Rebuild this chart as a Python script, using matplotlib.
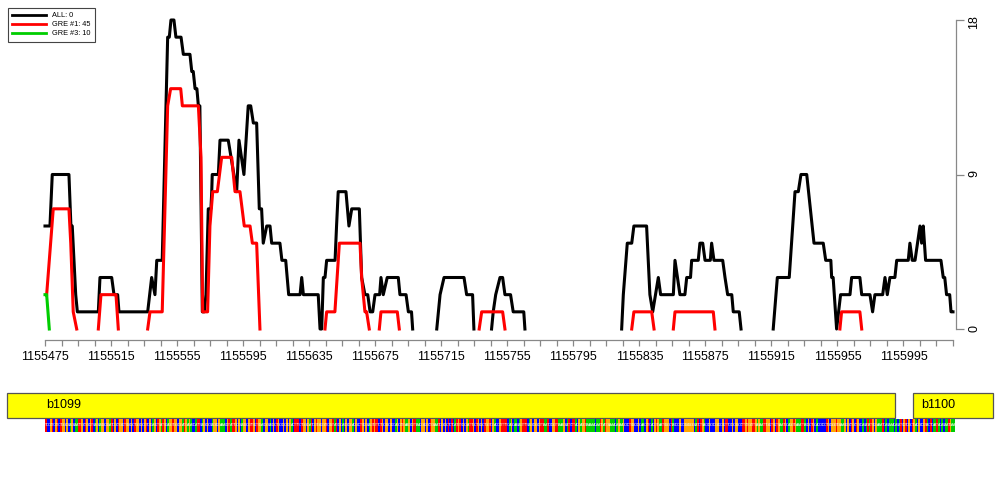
import numpy as np
import matplotlib.pyplot as plt
from matplotlib.ticker import FixedLocator

plt.rcParams['font.family'] = ['Liberation Sans', 'DejaVu Sans']

START = 1155475
END = 1156025
nan = np.nan

# coverage tracks (offset from START, value); nan breaks the line
ALL_OFF = [0, 3, 4.4, 14.5, 15.7, 16.5, 18.6, 19.6, 32.3, 33.3, 40.4, 41.8, 44, 44.8, 62.2, 64.6,
           66.6, 67.7, 71, 74.3, 75.3, 76.3, 78.1, 79.3, 82.4, 83.8, 87.8, 88.9, 89.8, 90.9, 92,
           92.9, 93.8, 95.3, 96.5, 97.5, 98.9, 100.5, 101, 101.3, 105, 106, 111, 116.1, 117.5,
           120.5, 123.1, 124.6, 126.2, 128.2, 129.8, 131.2, 132.2, 134.3, 136.3, 137.3, 142.3,
           143.5, 145.8, 147.6, 154.5, 155.5, 156.5, 165.5, 166.6, 167.6, 168.6, 169.6, 170.6,
           175.7, 176.6, 177.6, 182.3, 184.1, 185.8, 190.4, 191.8, 193.8, 195.5, 196.9, 198.5,
           199.9, 202.7, 203.5, 204.9, 207.3, 214, 215, 218.7, 220.1, 222, 222.7, nan,
           237.3, 239.3, 241.7, 253.8, 255.4, 259, 259.8, nan,
           270.5, 271.5, 273, 275.6, 277.2, 278.6, 282, 283.6, 290, 290.7, nan,
           349.3, 350.3, 352.7, 355.4, 356.7, 364.4, 366.4, 368.1, 371.5, 372.9, 380.6, 381.6,
           384.6, 387.6, 388.7, 391, 391.7, 395.7, 396.7, 398.4, 399.8, 403, 403.8, 405.2, 410.5,
           411.9, 413.5, 416, 416.9, 420.5, 421.6, nan,
           441.1, 443.6, 450.8, 452.9, 454.3, 456.3, 457.9, 461.4, 465.8, 471.4, 472.9, 476,
           476.5, 477.4, 479.5, 481.9, 487.6, 488.6, 493.6, 494.7, 499.7, 501.3, 502.7, 507.4,
           508.8, 510.2, 511.8, 514.8, 515.9, 522.9, 523.9, 525.3, 527, 530, 531, 532, 533.4,
           542.7, 544.1, 545, 546.1, 548, 548.8, 550]
ALL_VAL = [6, 6, 9, 9, 6, 6, 2, 1, 1, 3, 3, 2, 2, 1, 1, 3,
           2, 4, 4, 17, 17, 18, 18, 17, 17, 16, 16, 15, 15, 14, 14,
           13, 13, 1, 1, 2, 7, 7, 8, 9, 9, 11, 11, 8, 11,
           9, 13, 13, 12, 12, 7, 7, 5, 6, 6, 5, 5,
           4, 4, 2, 2, 3, 2, 2, 0, 0, 3, 3, 4,
           4, 6, 8, 8, 6, 7, 7, 3, 2, 2, 1, 1,
           2, 2, 3, 2, 3, 3, 2, 2, 1, 1, 0, nan,
           0, 2, 3, 3, 2, 2, 0, nan,
           0, 1, 2, 3, 3, 2, 2, 1, 1, 0, nan,
           0, 2, 5, 5, 6, 6, 2, 1, 3, 2, 2, 4,
           2, 2, 3, 3, 4, 4, 5, 5, 4, 4, 5, 4, 4,
           3, 2, 2, 1, 1, 0, nan,
           0, 3, 3, 6, 8, 8, 9, 9, 5, 5, 4, 4,
           3, 3, 0, 2, 2, 3, 3, 2, 2, 1, 2, 2,
           3, 2, 3, 3, 4, 4, 5, 4, 4, 6, 5, 6, 4,
           4, 3, 3, 2, 2, 1, 1]

GRE1_OFF = [1, 2.6, 5, 14.5, 15.6, 17.1, 19.2, nan,
            32.3, 33.9, 43, 44.4, nan,
            62.2, 63.6, 71, 74.3, 76.1, 82.2, 83.2, 92.9, 94.5, 95.5, 98.5, 99.9, 101.6, 104.4,
            107, 113.1, 115.1, 118.1, 120.7, 124.2, 125.6, 128.2, 130.2, nan,
            169.6, 170.6, 175.6, 178.3, 190.8, 191.8, 193.8, 194.8, 196.4, nan,
            202.5, 203.5, 213.4, 214.6, nan,
            263, 264.5, 277.2, 278.6, nan,
            355.4, 356.7, 367.5, 368.9, nan,
            380.6, 381.6, 404.8, 405.8, nan,
            481.5, 482.5, 493.6, 494.7]
GRE1_VAL = [2, 4, 7, 7, 5, 1, 0, nan,
            0, 2, 2, 0, nan,
            0, 1, 1, 13, 14, 14, 13, 13, 10, 1, 1, 6, 8, 8,
            10, 10, 8, 8, 6, 6, 5, 5, 0, nan,
            0, 1, 1, 5, 5, 3, 1, 1, 0, nan,
            0, 1, 1, 0, nan,
            0, 1, 1, 0, nan,
            0, 1, 1, 0, nan,
            0, 1, 1, 0, nan,
            0, 1, 1, 0]

GRE3_OFF = [0, 1, 2.6]
GRE3_VAL = [2, 2, 0]

SERIES_LABELS = ["ALL: 0", "GRE #1: 45", "GRE #3: 10"]
SERIES_COLORS = ["black", "#FF0000", "#00CD00"]

# gene annotation
GENE_NAMES = ["b1099", "b1100"]
GENE_START = [1155452, 1156001]
GENE_END = [1155990, 1156049]

# genomic sequence shown under the genes
SEQ = ("TCCGTCGTCTGGCGCAGCAATTGCTGCGTCAGCAGGCGGATCGCTGGCTG"
       "GCGCTGGCGCGTCGCAGCTGATGCAGGTGGCGGATGAGACCATTCAGCGC"
       "CAGGCGAAACGTATTGCGCAGGCGTTGCTGGACGGCACGCTGCCGCGCGA"
       "CTTTCTGGCGATCGTGGCGGTCGGTATCGCACGCGGACGCCTGCGCAGTG"
       "TTCTGCGGCGCCAGCGTGAAGCGTTAACGGCGCTGGAATCGCGCTCTCAT"
       "GTCGCGATTGCTGCGCTGGTCGACCGTTTTCAGCAACAGTTTCAGCGGCG"
       "TTAATCCGGTTAAAGCATCTTACGAGGTAAAAACAATGATGGAAACAGAA"
       "GCCCTGGCCGCAACGTCACGTGAATGGGCTACCCGCCGGGGGGCATCTGA"
       "CCGCCCGGCCGCTTCCGCGGCCTTGTGGTTGAGAATTGGCTGCTGAATGC"
       "AGGTGAAATTACGCTGCACCCCCTGCGGGTGGAAGCGCTGCTGCCACATA"
       "TGCGAAATCACAAACACATCGTCGCTGACGCCGTACTCAATACACAATGAA")
BASE_COLORS = {"A": "#00CD00", "C": "#0000FF", "G": "#FFA500", "T": "#FF0000"}


fig = plt.figure(figsize=(10, 5), dpi=100)

# coverage panel
ax = fig.add_axes([0.045, 0.342, 0.908, 0.618])
for off, val, lab, col in zip([ALL_OFF, GRE1_OFF, GRE3_OFF], [ALL_VAL, GRE1_VAL, GRE3_VAL],
                              SERIES_LABELS, SERIES_COLORS):
    ax.plot(START + np.array(off), val, color=col, lw=2.2, label=lab, clip_on=False)

ax.set_xlim(START, END)
ax.set_ylim(0, 18)
for s in ["top", "left"]:
    ax.spines[s].set_visible(False)
ax.spines["bottom"].set_position(("outward", 8))
ax.spines["right"].set_position(("outward", 2))
for s in ["bottom", "right"]:
    ax.spines[s].set_color("#888888")
    ax.spines[s].set_linewidth(0.9)

ax.xaxis.set_major_locator(FixedLocator(np.arange(START, END + 1, 40)))
ax.xaxis.set_minor_locator(FixedLocator(np.arange(START, END + 1, 10)))
ax.set_xticklabels([str(v) for v in np.arange(START, END + 1, 40)])
ax.tick_params(axis="x", which="both", length=4, width=0.9, color="#888888",
               labelsize=9, pad=4)
ax.yaxis.tick_right()
ax.set_yticks([0, 9, 18])
ax.tick_params(axis="y", length=6, width=0.9, color="#888888", labelsize=9,
               labelrotation=90, pad=3)

leg = fig.legend(loc="upper left", bbox_to_anchor=(0.004, 0.992), fontsize=5.3,
                 handlelength=4.6, handletextpad=0.8, labelspacing=0.25,
                 borderpad=0.6, fancybox=False, edgecolor="#444444", framealpha=1)
leg.get_frame().set_linewidth(0.8)
for line in leg.get_lines():
    line.set_linewidth(2)

# gene + sequence track
gax = fig.add_axes([0.045, 0.13, 0.908, 0.09])
gax.set_xlim(START, END)
gax.set_ylim(0, 45)
gax.axis("off")
for name, g0, g1 in zip(GENE_NAMES, GENE_START, GENE_END):
    gax.add_patch(plt.Rectangle((g0, 17), g1 - g0, 25, facecolor="#FFFF00",
                                edgecolor="#555555", lw=0.9, clip_on=False))
    gax.text(max(g0 + 5, START + 1), 29.5, name, fontsize=9, ha="left", va="center")

pos = START + np.arange(len(SEQ))
gax.bar(pos, 13, width=1, bottom=3, align="edge",
        color=[BASE_COLORS[b] for b in SEQ], linewidth=0, clip_on=False)
for p, b in zip(pos, SEQ):
    gax.text(p + 0.5, 9.5, b, fontsize=2.5, color="white", ha="center", va="center",
             clip_on=False)

fig.savefig("out.png", dpi=100)
